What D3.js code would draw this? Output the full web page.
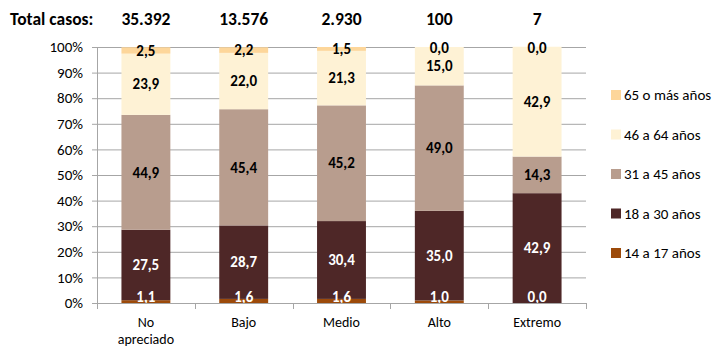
<!DOCTYPE html>
<html><head><meta charset="utf-8">
<script src="https://cdn.jsdelivr.net/npm/d3@7"></script>
<style>body{margin:0;background:#fff}svg{display:block;font-family:Carlito,Calibri,Lato,"Open Sans",sans-serif}</style>
</head><body><svg id="c" width="716" height="348"></svg>
<script>
const categories = ["No apreciado","Bajo","Medio","Alto","Extremo"];
const totals = ["35.392","13.576","2.930","100","7"];
const seriesNames = ["14 a 17 años","18 a 30 años","31 a 45 años","46 a 64 años","65 o más años"];
const s14_17 = [1.1,1.6,1.6,1.0,0.0];
const s18_30 = [27.5,28.7,30.4,35.0,42.9];
const s31_45 = [44.9,45.4,45.2,49.0,14.3];
const s46_64 = [23.9,22.0,21.3,15.0,42.9];
const s65 = [2.5,2.2,1.5,0.0,0.0];
const yTicks = [0,10,20,30,40,50,60,70,80,90,100];

const colors = ["#9C4A0A","#4E2727","#B89D8E","#FEF2D5","#FDD69A"];
const labelColors = ["#fff","#fff","#000","#000","#000"];
const seriesVals = [s14_17,s18_30,s31_45,s46_64,s65];

const svg = d3.select("#c");
const L=97,R=586,T=47,B=303;
const x = d3.scaleBand().domain(categories).range([L,R]).paddingInner(0.5).paddingOuter(0.25);
const y = d3.scaleLinear().domain([0,100]).range([B,T]);

// grid
svg.append("g").selectAll("line").data(yTicks).join("line")
  .attr("x1",L-5).attr("x2",R).attr("y1",d=>y(d)+0.5).attr("y2",d=>y(d)+0.5)
  .attr("stroke","#A6A6A6").attr("stroke-width",1);
svg.append("g").selectAll("text").data(yTicks).join("text")
  .attr("x",83).attr("y",d=>y(d)).attr("dy","0.35em").attr("text-anchor","end")
  .attr("font-size",15).attr("fill","#000").text(d=>d+"%");

// stacks
const rows = categories.map((c,i)=>{const o={cat:c}; seriesVals.forEach((s,k)=>o[k]=s[i]); return o;});
const stack = d3.stack().keys([0,1,2,3,4])(rows);
const g = svg.append("g");
stack.forEach((layer,k)=>{
  g.append("g").selectAll("rect").data(layer).join("rect")
    .attr("x",d=>x(d.data.cat)).attr("width",x.bandwidth())
    .attr("y",d=>y(d[1])).attr("height",d=>y(d[0])-y(d[1]))
    .attr("fill",colors[k]);
});
stack.forEach((layer,k)=>{
  g.append("g").selectAll("text").data(layer).join("text")
    .attr("x",d=>x(d.data.cat)+x.bandwidth()/2)
    .attr("y",d=>{let yy=y((d[0]+d[1])/2); return Math.max(T+1,Math.min(B-6,yy));})
    .attr("dy","0.35em").attr("text-anchor","middle")
    .attr("font-size",15).attr("font-weight","bold").attr("fill",labelColors[k])
    .text(d=>d3.format(".1f")(d[1]-d[0]).replace(".",","));
});

// x axis
svg.append("line").attr("x1",L+0.5).attr("x2",L+0.5).attr("y1",T).attr("y2",B).attr("stroke","#A6A6A6");
svg.append("line").attr("x1",L).attr("x2",R).attr("y1",B+0.5).attr("y2",B+0.5).attr("stroke","#A6A6A6");
const step = (R-L)/categories.length;
svg.append("g").selectAll("line").data(d3.range(categories.length+1)).join("line")
  .attr("x1",i=>Math.round(L+i*step)+0.5).attr("x2",i=>Math.round(L+i*step)+0.5)
  .attr("y1",B).attr("y2",B+6).attr("stroke","#A6A6A6");
categories.forEach(c=>{
  const cx = x(c)+x.bandwidth()/2;
  const words = c==="No apreciado" ? ["No","apreciado"] : [c];
  words.forEach((w,i)=>{
    svg.append("text").attr("x",cx).attr("y",322+i*17).attr("dy","0.35em")
      .attr("text-anchor","middle").attr("font-size",14).text(w);
  });
});

// totals
svg.append("text").attr("x",10).attr("y",19).attr("dy","0.35em").attr("font-size",17.5)
  .attr("font-weight","bold").text("Total casos:");
svg.append("g").selectAll("text").data(categories).join("text")
  .attr("x",c=>x(c)+x.bandwidth()/2).attr("y",19).attr("dy","0.35em")
  .attr("text-anchor","middle").attr("font-size",17.5).attr("font-weight","bold")
  .text((c,i)=>totals[i]);

// legend
const legOrder=[4,3,2,1,0];
const lg = svg.append("g");
legOrder.forEach((k,i)=>{
  const ly = 95+i*39.5;
  lg.append("rect").attr("x",611).attr("y",ly-5).attr("width",10).attr("height",10).attr("fill",colors[k]);
  lg.append("text").attr("x",624).attr("y",ly).attr("dy","0.35em").attr("font-size",15).text(seriesNames[k]);
});
</script></body></html>
